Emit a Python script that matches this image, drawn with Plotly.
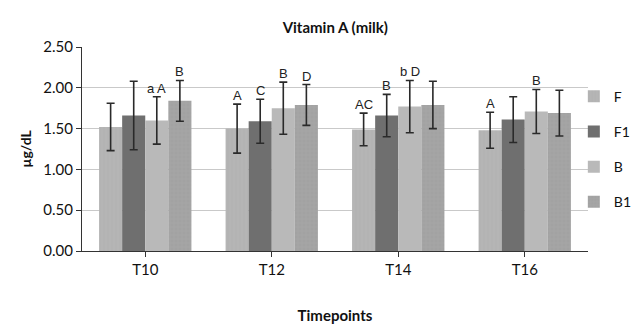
import plotly.graph_objects as go

categories = ["T10", "T12", "T14", "T16"]
series_names = ["F", "F1", "B", "B1"]
means = {
    "F":  [1.52, 1.50, 1.49, 1.48],
    "F1": [1.66, 1.59, 1.66, 1.61],
    "B":  [1.60, 1.75, 1.77, 1.71],
    "B1": [1.84, 1.79, 1.79, 1.69],
}
errors = {
    "F":  [0.29, 0.30, 0.20, 0.22],
    "F1": [0.42, 0.27, 0.26, 0.28],
    "B":  [0.29, 0.32, 0.32, 0.27],
    "B1": [0.25, 0.25, 0.29, 0.28],
}
letters = {
    "F":  ["", "A", "AC", "A"],
    "F1": ["", "C", "B", ""],
    "B":  ["a A", "B", "b D", "B"],
    "B1": ["B", "D", "", ""],
}
colors = {"F": "#b5b5b5", "F1": "#6f6f6f", "B": "#b9b9b9", "B1": "#a5a5a5"}
patterns = {"F": "|", "F1": "", "B": "", "B1": "+"}
pat_fg = {"F": "#a9a9a9", "F1": "#6f6f6f", "B": "#b9b9b9", "B1": "#999999"}

fig = go.Figure()
for i, s in enumerate(series_names):
    fig.add_trace(go.Bar(
        x=list(range(len(categories))), y=means[s], name=s,
        marker=dict(color=colors[s], line=dict(width=0),
                    pattern=dict(shape=patterns[s], fgcolor=pat_fg[s], size=4, solidity=0.2)),
        error_y=dict(type="data", array=errors[s], visible=True,
                     color="#2a2a2a", thickness=1.6, width=4),
        legendgroup=s,
    ))

bargap = 0.27
bw = (1 - bargap) / len(series_names)
annotations = []
for i, s in enumerate(series_names):
    off = -(1 - bargap) / 2 + bw * (i + 0.5)
    for j in range(len(categories)):
        t = letters[s][j]
        if t:
            annotations.append(dict(
                x=j + off, y=means[s][j] + errors[s][j], xref="x", yref="y",
                text=t, showarrow=False, yanchor="bottom", yshift=-1,
                font=dict(family="Liberation Sans", size=13, color="#222")))

fig.update_layout(
    width=635, height=324,
    margin=dict(l=82, r=47, t=47, b=73, autoexpand=False),
    paper_bgcolor="white", plot_bgcolor="white",
    barmode="group", bargap=bargap, bargroupgap=0,
    title=dict(text="<b>Vitamin A (milk)</b>", x=0.528, xanchor="center",
               y=0.915, yanchor="middle",
               font=dict(family="Lato", size=15, color="#111")),
    font=dict(family="Lato", color="#111"),
    showlegend=True,
    legend=dict(x=0.972, xanchor="left", y=0.835, yanchor="top",
                tracegroupgap=14, font=dict(size=14, family="Lato"),
                itemwidth=30, bgcolor="rgba(0,0,0,0)"),
    annotations=annotations,
)
fig.update_xaxes(
    tickmode="array", tickvals=list(range(len(categories))), ticktext=categories,
    range=[-0.5, len(categories) - 0.5],
    showline=True, linecolor="#333", linewidth=1.2,
    ticks="outside", ticklen=5, tickcolor="#333",
    tickfont=dict(size=15, family="Lato"),
    title=dict(text="<b>Timepoints</b>", font=dict(size=15, family="Lato"), standoff=34),
    showgrid=False, zeroline=False, automargin=False,
)
fig.update_xaxes(tickson="boundaries")
fig.update_yaxes(
    range=[0, 2.5], dtick=0.5, tickformat=".2f",
    showline=True, linecolor="#333", linewidth=1.2,
    ticks="outside", ticklen=5, tickcolor="#333",
    tickfont=dict(size=15, family="Lato"),
    showgrid=True, gridcolor="#c9c9c9", gridwidth=1,
    zeroline=False, automargin=False,
    title=dict(text="<b>µg/dL</b>", font=dict(size=14, family="Lato"), standoff=8),
)
fig.write_html("out.html", config={"displayModeBar": False},
               post_script="document.body.style.margin='0';")
